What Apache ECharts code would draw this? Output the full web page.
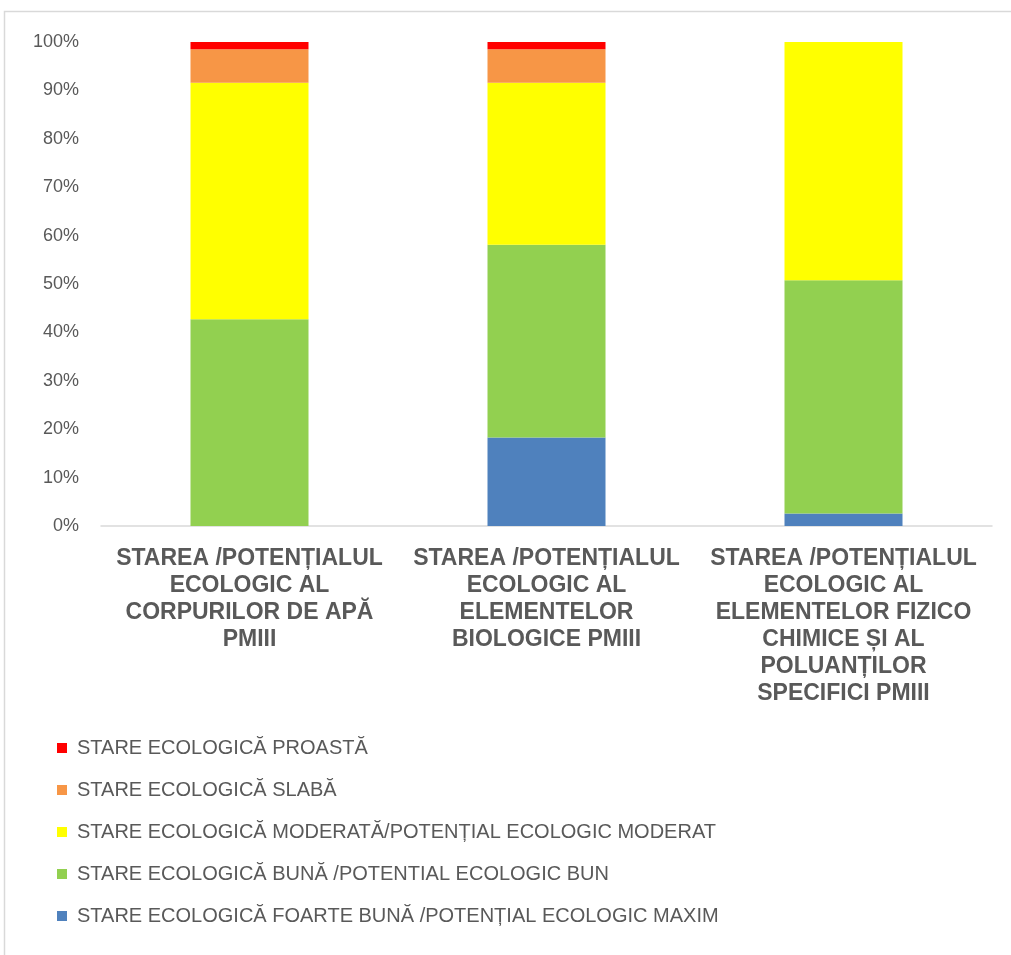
<!DOCTYPE html>
<html><head><meta charset="utf-8">
<script src="https://cdn.jsdelivr.net/npm/echarts@6/dist/echarts.min.js"></script>
<style>html,body{margin:0;padding:0;background:#fff}#c{width:1011px;height:955px}</style>
</head><body><div id="c"></div>
<script>
const categories = [
  "STAREA /POTENȚIALUL\nECOLOGIC AL\nCORPURILOR DE APĂ\nPMIII",
  "STAREA /POTENȚIALUL\nECOLOGIC AL\nELEMENTELOR\nBIOLOGICE PMIII",
  "STAREA /POTENȚIALUL\nECOLOGIC AL\nELEMENTELOR FIZICO\nCHIMICE ȘI AL\nPOLUANȚILOR\nSPECIFICI PMIII"
];
const seriesNames = [
  "STARE ECOLOGICĂ FOARTE BUNĂ /POTENȚIAL ECOLOGIC MAXIM",
  "STARE ECOLOGICĂ BUNĂ /POTENTIAL ECOLOGIC BUN",
  "STARE ECOLOGICĂ MODERATĂ/POTENȚIAL ECOLOGIC MODERAT",
  "STARE ECOLOGICĂ SLABĂ",
  "STARE ECOLOGICĂ PROASTĂ"
];
const seriesColors = ["#4F81BD", "#92D050", "#FFFF00", "#F79646", "#FF0000"];
const foarteBuna = [null, 18.3, 2.6];
const buna = [42.7, 39.8, 48.2];
const moderata = [48.9, 33.5, 49.2];
const slaba = [6.9, 6.9, null];
const proasta = [1.5, 1.5, null];
const yTicks = [0, 10, 20, 30, 40, 50, 60, 70, 80, 90, 100];

const values = [foarteBuna, buna, moderata, slaba, proasta];
const chart = echarts.init(document.getElementById('c'));
chart.setOption({
  backgroundColor: '#fff',
  animation: false,
  graphic: [{
    type: 'rect', shape: {x: 4.5, y: 11.5, width: 1100, height: 1100},
    style: {fill: 'none', stroke: '#d9d9d9', lineWidth: 1.5}, silent: true
  }],
  grid: {left: 101, right: 19, top: 42, bottom: 429, containLabel: false},
  legend: {
    orient: 'vertical', left: 52, top: 733, height: 300,
    itemWidth: 10, itemHeight: 10, itemGap: 22,
    icon: 'rect',
    data: seriesNames.slice().reverse(),
    textStyle: {color: '#595959', fontSize: 20, fontFamily: 'Liberation Sans', padding: [0, 0, 0, 5]}
  },
  xAxis: {
    type: 'category', data: categories,
    axisLine: {lineStyle: {color: '#d9d9d9', width: 1.5}},
    axisTick: {show: false},
    axisLabel: {interval: 0, margin: 19, color: '#595959', fontSize: 23, fontWeight: 'bold',
      fontFamily: 'Liberation Sans', lineHeight: 27}
  },
  yAxis: {
    type: 'value', min: 0, max: 100, interval: 10,
    axisLine: {show: false}, axisTick: {show: false}, splitLine: {show: false},
    axisLabel: {formatter: v => yTicks.includes(v) ? v + '%' : '', color: '#595959', fontSize: 18,
      fontFamily: 'Liberation Sans', margin: 22}
  },
  series: seriesNames.map((n, i) => ({
    name: n, type: 'bar', stack: 'all', data: values[i], barWidth: 118,
    itemStyle: {color: seriesColors[i]}
  }))
});
</script></body></html>
